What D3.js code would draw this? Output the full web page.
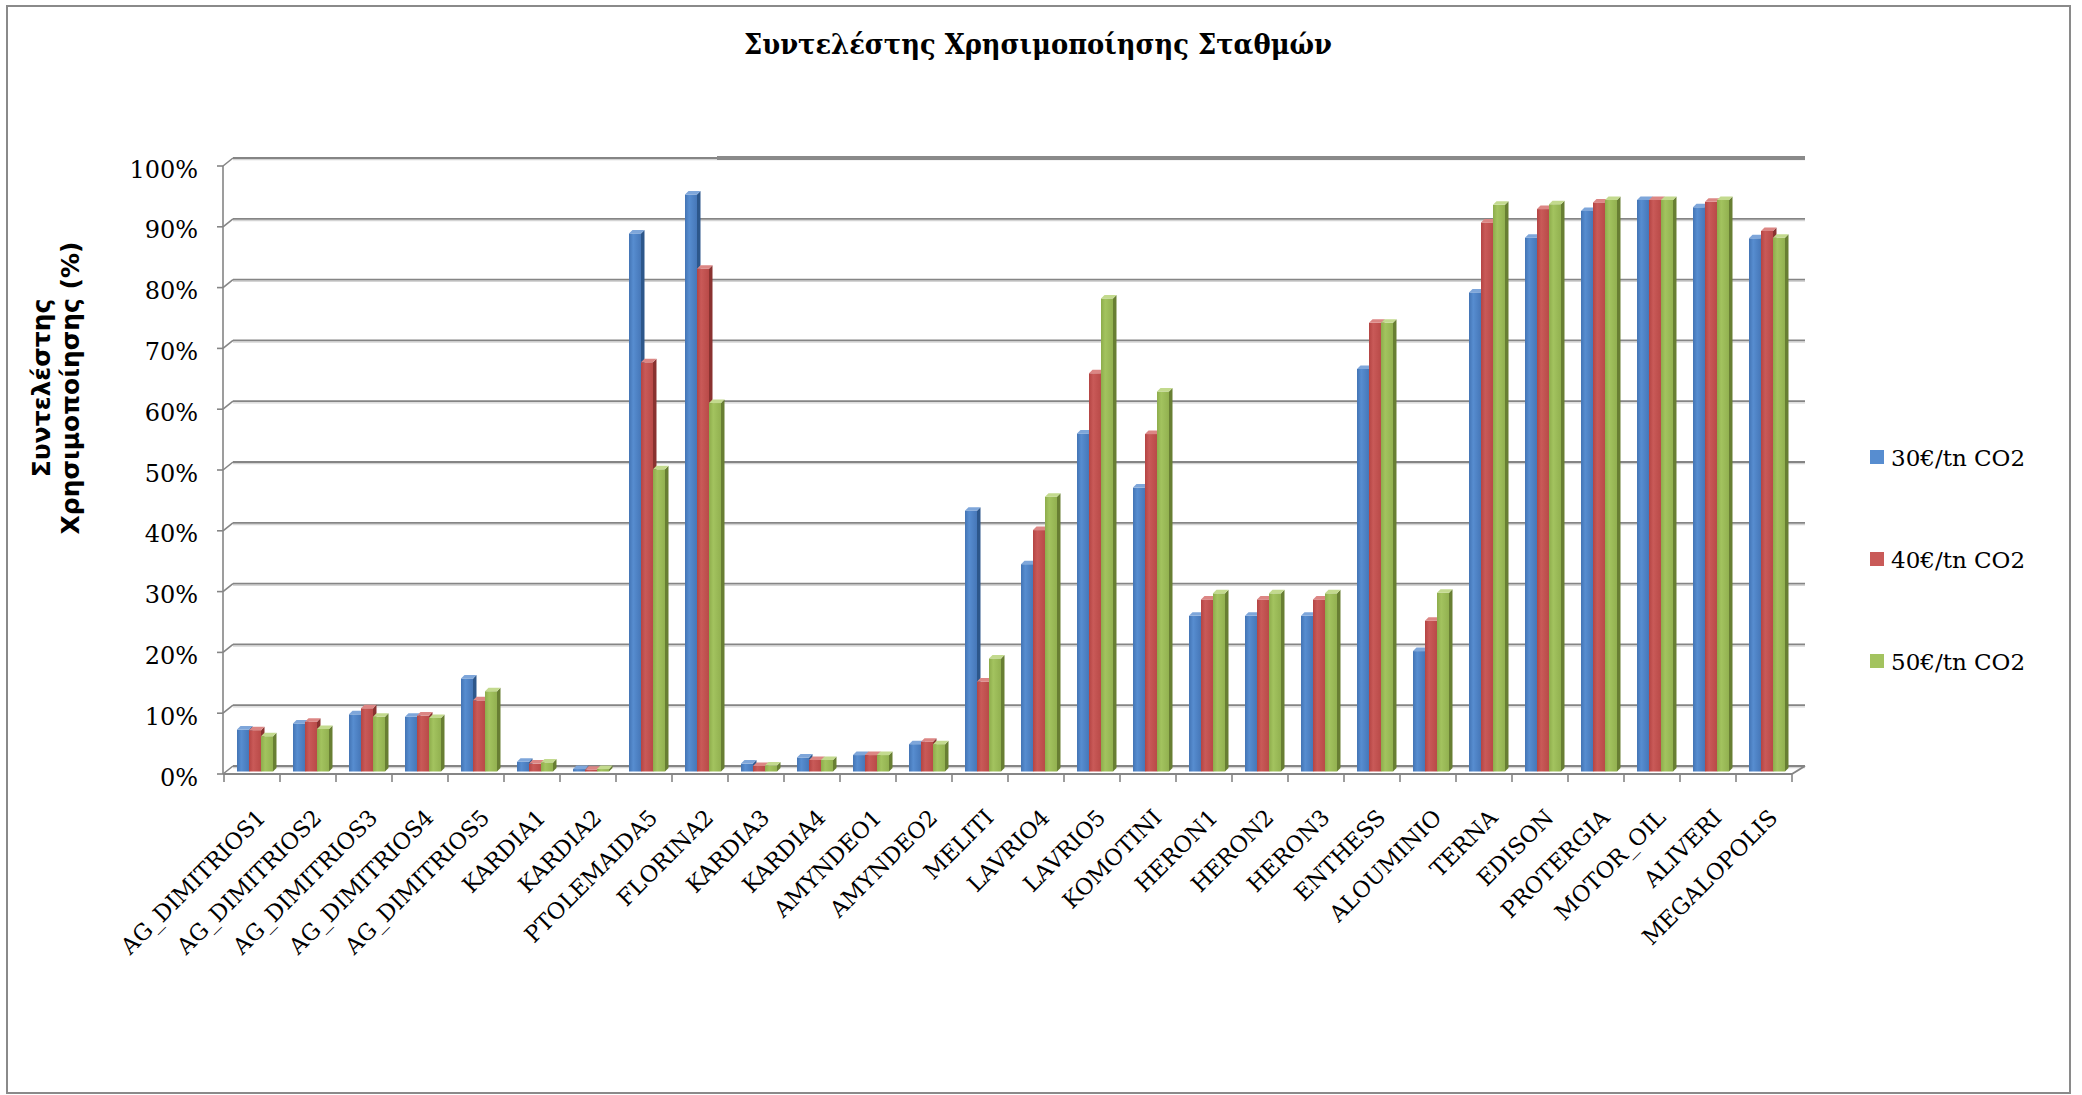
<!DOCTYPE html>
<html>
<head>
<meta charset="utf-8">
<script src="https://cdn.jsdelivr.net/npm/d3@7"></script>
<style>
html,body{margin:0;padding:0;background:#fff;}
svg{display:block;}
</style>
</head>
<body>
<div id="chart"></div>
<script>
// ---------- data ----------
const categories = ["AG_DIMITRIOS1","AG_DIMITRIOS2","AG_DIMITRIOS3","AG_DIMITRIOS4","AG_DIMITRIOS5","KARDIA1","KARDIA2","PTOLEMAIDA5","FLORINA2","KARDIA3","KARDIA4","AMYNDEO1","AMYNDEO2","MELITI","LAVRIO4","LAVRIO5","KOMOTINI","HERON1","HERON2","HERON3","ENTHESS","ALOUMINIO","TERNA","EDISON","PROTERGIA","MOTOR_OIL","ALIVERI","MEGALOPOLIS"];
const seriesNames = ["30€/tn CO2","40€/tn CO2","50€/tn CO2"];
const s30 = [6.9,7.9,9.4,9.0,15.3,1.6,0.4,88.5,94.9,1.3,2.3,2.7,4.5,42.9,34.1,55.6,46.7,25.6,25.6,25.6,66.2,19.8,78.8,87.8,92.2,94.0,92.8,87.7];
const s40 = [6.8,8.2,10.4,9.2,11.7,1.3,0.3,67.3,82.7,0.9,1.9,2.7,4.9,14.8,39.7,65.5,55.5,28.3,28.3,28.3,73.8,24.8,90.3,92.5,93.6,94.0,93.7,88.9];
const s50 = [5.8,7.0,9.0,8.8,13.2,1.5,0.4,49.7,60.6,1.0,1.9,2.7,4.5,18.6,45.2,77.8,62.5,29.3,29.3,29.3,73.8,29.4,93.2,93.3,94.0,94.0,94.0,87.8];
const yTicks = [0,10,20,30,40,50,60,70,80,90,100];
const chartTitle = "Συντελέστης Χρησιμοποίησης Σταθμών";
const yTitleLines = ["Συντελέστης","Χρησιμοποίησης (%)"];

// ---------- styles ----------
const W = 2082, H = 1095;
const palette = [
  {front:["#4374b4","#578dd0","#4677b8"], side:"#2d578b", top:"#7ea6da"},
  {front:["#b44443","#c95a58","#b94a48"], side:"#8a3230", top:"#dc8684"},
  {front:["#8dac4b","#a3c35f","#92b150"], side:"#687f33", top:"#c3da8e"}
];
const gridColor = "#858585";
const serif = "'DejaVu Serif', 'Liberation Serif', serif";

const svg = d3.select("#chart").append("svg").attr("width", W).attr("height", H);
const defs = svg.append("defs");
palette.forEach((p,i)=>{
  const g = defs.append("linearGradient").attr("id","grad"+i).attr("x1","0").attr("x2","1").attr("y1","0").attr("y2","0");
  g.append("stop").attr("offset","0").attr("stop-color",p.front[0]);
  g.append("stop").attr("offset","0.35").attr("stop-color",p.front[1]);
  g.append("stop").attr("offset","1").attr("stop-color",p.front[2]);
});

// outer border
svg.append("rect").attr("x",7).attr("y",6).attr("width",2063).attr("height",1087)
  .attr("fill","#fff").attr("stroke","#8a8a8a").attr("stroke-width",2);

// ---------- scales ----------
const x = d3.scaleBand().domain(categories).range([224,1792]).paddingInner(0).paddingOuter(0);
const xs = d3.scaleBand().domain(seriesNames).range([13,49]);
const y = d3.scaleLinear().domain([0,100]).range([774,166]);
const wallDX = 10, wallDY = -8;      // back wall offset
const barDX = 0, barDY = -2.5;       // bar depth plane offset
const cap = 3.5;                     // bar depth
const wallRight = 1805;

// ---------- back wall gridlines ----------
const grid = svg.append("g");
yTicks.forEach(v=>{
  const yy = y(v) + wallDY;
  grid.append("line").attr("x1",x.range()[0]-1+wallDX).attr("x2",wallRight)
    .attr("y1",yy+1.7).attr("y2",yy+1.7).attr("stroke","#d4d4d4").attr("stroke-width",1.3);
  grid.append("line").attr("x1",x.range()[0]-1+wallDX).attr("x2",wallRight)
    .attr("y1",yy).attr("y2",yy).attr("stroke",gridColor).attr("stroke-width",1.8);
  grid.append("line").attr("x1",x.range()[0]-1).attr("x2",x.range()[0]-1+wallDX)
    .attr("y1",y(v)).attr("y2",yy).attr("stroke",gridColor).attr("stroke-width",1.6);
});
// heavy top edge on the right part of the wall
grid.append("line").attr("x1",x("FLORINA2")+45).attr("x2",wallRight)
  .attr("y1",y(100)+wallDY).attr("y2",y(100)+wallDY).attr("stroke","#8a8a8a").attr("stroke-width",4);

// floor edge on the right
svg.append("line").attr("x1",x.range()[1]).attr("y1",y(0)).attr("x2",wallRight).attr("y2",y(0)+wallDY)
  .attr("stroke",gridColor).attr("stroke-width",2);

// ---------- bars ----------
const seriesVals = [s30,s40,s50];
const bars = svg.append("g");
const bw = xs.bandwidth();
categories.forEach((c,ci)=>{
  seriesNames.forEach((s,si)=>{
    const v = seriesVals[si][ci];
    const bx = x(c) + xs(s) + barDX;
    const yt = y(v) + barDY, yb = y(0) + barDY;
    const g = bars.append("g");
    g.append("polygon").attr("points",[[bx+bw,yt],[bx+bw+cap,yt-cap],[bx+bw+cap,yb-cap],[bx+bw,yb]].map(p=>p.join(",")).join(" "))
      .attr("fill",palette[si].side);
    g.append("rect").attr("x",bx).attr("y",yt).attr("width",bw).attr("height",yb-yt)
      .attr("fill","url(#grad"+si+")");
    g.append("polygon").attr("points",[[bx,yt],[bx+cap,yt-cap],[bx+bw+cap,yt-cap],[bx+bw,yt]].map(p=>p.join(",")).join(" "))
      .attr("fill",palette[si].top);
  });
});

// ---------- front axes ----------
const ax = svg.append("g");
ax.append("line").attr("x1",x.range()[0]-1).attr("x2",x.range()[0]-1).attr("y1",y(100)).attr("y2",y(0))
  .attr("stroke",gridColor).attr("stroke-width",1.6);
ax.append("line").attr("x1",x.range()[0]-1).attr("x2",x.range()[1]).attr("y1",y(0)).attr("y2",y(0))
  .attr("stroke",gridColor).attr("stroke-width",2.2);
yTicks.forEach(v=>{
  ax.append("line").attr("x1",x.range()[0]-7).attr("x2",x.range()[0]-1).attr("y1",y(v)).attr("y2",y(v))
    .attr("stroke",gridColor).attr("stroke-width",1.6);
  ax.append("text").attr("x",198).attr("y",y(v)+11.5).attr("text-anchor","end")
    .attr("font-family",serif).attr("font-size",24).attr("fill","#000").text(v+"%");
});
categories.concat([null]).forEach((c,i)=>{
  const xx = c===null ? x.range()[1] : x(c);
  ax.append("line").attr("x1",xx).attr("x2",xx).attr("y1",y(0)).attr("y2",y(0)+8)
    .attr("stroke",gridColor).attr("stroke-width",1.6);
});
categories.forEach(c=>{
  const cx = x(c) + x.bandwidth()/2 + 15, cy = 819;
  ax.append("text").attr("transform",`translate(${cx},${cy}) rotate(-45)`)
    .attr("text-anchor","end").attr("font-family",serif).attr("font-size",22.5).attr("fill","#000").text(c);
});

// ---------- titles ----------
svg.append("text").attr("x",1038).attr("y",54).attr("text-anchor","middle")
  .attr("font-family",serif).attr("font-weight","bold").attr("font-size",27)
  .attr("textLength",588).attr("lengthAdjust","spacingAndGlyphs").attr("fill","#000").text(chartTitle);
const yTitleX = [50,79];
yTitleLines.forEach((t,i)=>{
  svg.append("text").attr("transform",`translate(${yTitleX[i]},388) rotate(-90)`).attr("text-anchor","middle")
    .attr("font-family","'DejaVu Sans', Verdana, sans-serif").attr("font-weight","bold").attr("font-size",25)
    .attr("fill","#000").text(t);
});

// ---------- legend ----------
const leg = svg.append("g");
seriesNames.forEach((s,i)=>{
  const ly = 450 + i*102;
  leg.append("rect").attr("x",1870).attr("y",ly).attr("width",14).attr("height",14).attr("fill",palette[i].front[1]);
  leg.append("text").attr("x",1891).attr("y",ly+15.5).attr("font-family",serif).attr("font-size",23)
    .attr("fill","#000").text(s);
});
</script>
</body>
</html>
